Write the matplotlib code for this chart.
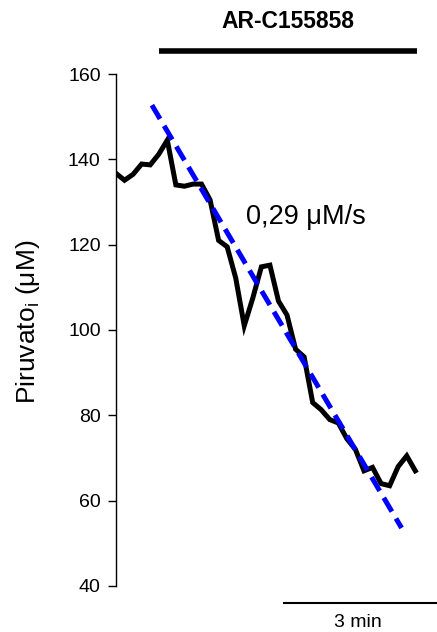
import matplotlib
matplotlib.use("Agg")
import matplotlib.pyplot as plt
import numpy as np

plt.rcParams['font.family'] = ['Liberation Sans', 'DejaVu Sans']
plt.rcParams['mathtext.default'] = 'regular'

# Time (s) and intracellular pyruvate (µM)
time_s = [0, 10, 20, 30, 40, 50, 60, 70, 80, 90, 100, 110, 120, 130, 140, 150,
          160, 170, 180, 190, 200, 210, 220, 230, 240, 250, 260, 270, 280, 290,
          300, 310, 320, 330, 340, 350]
pyruvate = [136.7, 135.1, 136.5, 138.9, 138.7, 141.2, 144.5, 134.0, 133.7, 134.2,
            134.2, 130.5, 121.0, 119.5, 112.2, 101.0, 107.5, 114.8, 115.2, 106.8,
            103.5, 95.5, 93.7, 83.0, 81.3, 79.0, 78.2, 74.5, 72.0, 67.0,
            67.8, 64.0, 63.5, 68.0, 70.5, 67.0]

# Linear fit line endpoints (time, value)
fit_t = [42, 334]
fit_v = [152.7, 53.6]

yticks = [40, 60, 80, 100, 120, 140, 160]
drug_label = "AR-C155858"
drug_span = [50.6, 351.7]
scale_span = [195.7, 375.7]
scale_label = "3 min"
rate_label = "0,29 μM/s"

fig = plt.figure(figsize=(4.37, 6.32), dpi=100)
ax = fig.add_axes([116/437, 1-586/632, (437-116)/437, (586-74)/632])

ax.plot(time_s, pyruvate, color='black', lw=3.6, solid_joinstyle='miter', zorder=3)
ax.plot(fit_t, fit_v, color='#0000ff', lw=3.6, dashes=(3.2, 1.6), zorder=4)

ax.set_xlim(0, 375.4)
ax.set_ylim(40, 160)
ax.set_yticks(yticks)
ax.tick_params(axis='y', direction='out', length=6, width=1, labelsize=14, pad=5)
ax.set_xticks([])
for s in ['top', 'right', 'bottom']:
    ax.spines[s].set_visible(False)
ax.spines['left'].set_linewidth(1)

fig.text(28/437, 1-322/632, "Piruvato$_i$ (μM)", rotation=90, ha='center', va='center',
         fontsize=19)

# drug bar and label
ax.plot(drug_span, [165.5, 165.5], color='black', lw=4, clip_on=False, solid_capstyle='butt')
ax.text(np.mean(drug_span) - 0.5, 172.3, drug_label, ha='center', va='center',
        fontsize=16.5, fontweight='bold')

# time scale bar
ax.plot(scale_span, [36.0, 36.0], color='black', lw=1.5, clip_on=False, solid_capstyle='butt')
ax.text(np.mean(scale_span) - 3, 31.4, scale_label, ha='center', va='center', fontsize=14)

ax.text(222, 126.4, rate_label, ha='center', va='center', fontsize=19.5)

fig.savefig("out.png", dpi=100)
